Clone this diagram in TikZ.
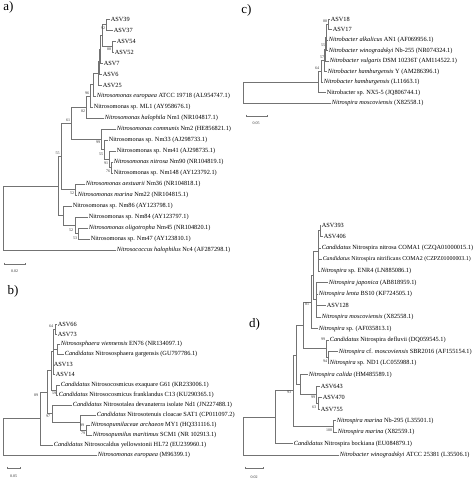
\documentclass[tikz,border=0pt]{standalone}
\usepackage{fontspec}
\setmainfont{Liberation Serif}
\usetikzlibrary{positioning}

\tikzset{
  branch/.style={draw=black!55, line width=0.55pt},
  leaf/.style={anchor=west, inner sep=0.8pt, outer sep=0pt, font=\fontsize{6.3}{7}\selectfont},
  boot/.style={inner sep=0pt, font=\fontsize{4}{4.5}\selectfont, text=black!80},
  panel/.style={inner sep=0pt, font=\fontsize{13}{14}\selectfont},
}

\begin{document}
\begin{tikzpicture}[x=1pt, y=-1pt]
    \useasboundingbox (0,0) rectangle (474,479);

    % a) AOB tree
    \node[panel] (pa) at (8.5,7) {a)};
    \foreach \nm/\yy/\xx/\txt in {a1/19/110/{ASV39}, a2/30/113/{ASV37}, a3/41/116/{ASV54}, a4/52/114/{ASV52},
        a5/63/103/{ASV7}, a6/74/102/{ASV6}, a7/85/102/{ASV25},
        a8/96/96/{\textit{Nitrosomonas europaea} ATCC 19718 (AL954747.1)},
        a9/107/93/{Nitrosomonas sp. ML1 (AY958676.1)},
        a10/118/104/{\textit{Nitrosomonas halophila} Nm1 (NR104817.1)},
        a11/129/116/{\textit{Nitrosomonas communis} Nm2 (HE856821.1)},
        a12/140/108/{Nitrosomonas sp. Nm33 (AJ298733.1)},
        a13/151/116/{Nitrosomonas sp. Nm41 (AJ298735.1)},
        a14/162/113/{\textit{Nitrosomonas nitrosa} Nm90 (NR104819.1)},
        a15/173/113/{Nitrosomonas sp. Nm148 (AY123792.1)},
        a16/184/85/{\textit{Nitrosomonas aestuarii} Nm36 (NR104818.1)},
        a17/195/77/{\textit{Nitrosomonas marina} Nm22 (NR104815.1)},
        a18/206/72/{Nitrosomonas sp. Nm86 (AY123798.1)},
        a19/217/88/{Nitrosomonas sp. Nm84 (AY123797.1)},
        a20/228/88/{\textit{Nitrosomonas oligotropha} Nm45 (NR104820.1)},
        a21/239/90/{Nitrosomonas sp. Nm47 (AY123810.1)},
        a22/250/116/{\textit{Nitrosococcus halophilus} Nc4 (AF287298.1)}} {
        \node[leaf] (\nm) at (\xx,\yy) {\txt};
    }
    \foreach \nm/\xx/\yy in {an1/106/24.5, an2/112/46.5, an3/102/35.5, an4/100/49.25, an5/99/61.6,
        an6/98/73.3, an7/93/84.7, an8/90/95.8, an9/86/106.9, an10/111/167.5, an11/109/159.3,
        an12/104/149.6, an13/101/139.3, an14/71/123.1, an15/75/189.5, an16/61/156.3,
        an17/78/233.5, an18/75/225.25, an19/63/215.6, an20/58/186, ar/3/218} {
        \coordinate (\nm) at (\xx,\yy);
    }
    \foreach \p/\c in {an1/a1, an1/a2, an2/a3, an2/a4, an3/an1, an3/an2, an4/an3, an4/a5,
        an5/an4, an5/a6, an6/an5, an6/a7, an7/an6, an7/a8, an8/an7, an8/a9, an9/an8, an9/a10,
        an10/a14, an10/a15, an11/a13, an11/an10, an12/a12, an12/an11, an13/a11, an13/an12,
        an14/an9, an14/an13, an15/a16, an15/a17, an16/an14, an16/an15, an17/a20, an17/a21,
        an18/a19, an18/an17, an19/a18, an19/an18, an20/an16, an20/an19, ar/an20, ar/a22} {
        \draw[branch] (\p) |- (\c);
    }
    \foreach \xx/\yy/\v [count=\k] in {103/28/92, 109/49/88, 87/93/96, 83/111/82, 98/142/99,
        101/154/55, 106/163/91, 108/171/76, 68/120/61, 72/193/52, 57.5/153/55, 71/230/52, 75/238/53} {
        \node[boot] (abs\k) at (\xx,\yy) {\v};
    }
    \draw[branch] (4,262.5) -- (4,264) -- (25,264) -- (25,262.5);
    \node[boot] (asc) at (14.5,271) {0.02};

    % b) AOA tree
    \node[panel] (pb) at (13,291.5) {b)};
    \foreach \nm/\yy/\xx/\txt in {b1/324/57/{ASV66}, b2/334/57/{ASV73},
        b3/344/60/{\textit{Nitrososphaera viennensis} EN76 (NR134097.1)},
        b4/354/64/{\textit{Candidatus} Nitrososphaera gargensis (GU797786.1)},
        b5/364/53/{ASV13}, b6/374/55/{ASV14},
        b7/385/60/{\textit{Candidatus} Nitrosocosmicus exaquare G61 (KR233006.1)},
        b8/395/58/{\textit{Candidatus} Nitrosocosmicus franklandus C13 (KU290365.1)},
        b9/405/72/{\textit{Candidatus} Nitrosotalea devanaterra isolate Nd1 (JN227488.1)},
        b10/415/96/{\textit{Candidatus} Nitrosotenuis cloacae SAT1 (CP011097.2)},
        b11/425/90/{\textit{Nitrosopumilaceae archaeon} MY1 (HQ331116.1)},
        b12/435/92/{\textit{Nitrosopumilus maritimus} SCM1 (NR 102913.1)},
        b13/445/53/{\textit{Candidatus} Nitrosocaldus yellowstonii HL72 (EU239960.1)},
        b14/455/97/{\textit{Nitrosomonas europaea} (M96399.1)}} {
        \node[leaf] (\nm) at (\xx,\yy) {\txt};
    }
    \foreach \nm/\xx/\yy in {bn1/55/329, bn2/57/349, bn3/53/351.5, bn4/56/390, bn5/51/370.75,
        bn6/86/430, bn7/80/422.5, bn8/52/413.75, bn9/47/392.25, bn10/40/418.6, br/3/436.8} {
        \coordinate (\nm) at (\xx,\yy);
    }
    \foreach \p/\c in {bn1/b1, bn1/b2, bn2/b3, bn2/b4, bn3/bn1, bn3/bn2, bn3/b5, bn3/b6,
        bn4/b7, bn4/b8, bn5/bn3, bn5/bn4, bn6/b11, bn6/b12, bn7/b10, bn7/bn6, bn8/b9, bn8/bn7,
        bn9/bn5, bn9/bn8, bn10/bn9, bn10/b13, br/bn10, br/b14} {
        \draw[branch] (\p) |- (\c);
    }
    \foreach \xx/\yy/\v [count=\k] in {51/326/64, 54/393/59, 48/416/97, 36/395/89, 82/425/99, 83/433/79} {
        \node[boot] (bbs\k) at (\xx,\yy) {\v};
    }
    \draw[branch] (7,466.5) -- (7,468) -- (20,468) -- (20,466.5);
    \node[boot] (bsc) at (13.5,476) {0.05};

    % c) Nitrobacter tree
    \node[panel] (pc) at (246.5,10) {c)};
    \foreach \nm/\yy/\xx/\txt in {c1/19/330/{ASV18}, c2/29.5/332/{ASV17},
        c3/40/328/{\textit{Nitrobacter alkalicus} AN1 (AF069956.1)},
        c4/50.5/328/{\textit{Nitrobacter winogradskyi} Nb-255 (NR074324.1)},
        c5/61/329/{\textit{Nitrobacter vulgaris} DSM 10236T (AM114522.1)},
        c6/71.5/327/{\textit{Nitrobacter hamburgensis} Y (AM286396.1)},
        c7/82/323/{\textit{Nitrobacter hamburgensis} (L11663.1)},
        c8/92.5/326/{Nitrobacter sp. NX5-5 (JQ806744.1)},
        c9/103/331/{\textit{Nitrospira moscoviensis} (X82558.1)}} {
        \node[leaf] (\nm) at (\xx,\yy) {\txt};
    }
    \foreach \nm/\xx/\yy in {cn1/328/24.25, cn2/326/37.4, cn3/325/49.2, cn4/324/60.35,
        cn5/321/71.2, cn6/318/81.8, cr/243/92.4} {
        \coordinate (\nm) at (\xx,\yy);
    }
    \foreach \p/\c in {cn1/c1, cn1/c2, cn2/cn1, cn2/c3, cn2/c4, cn3/cn2, cn3/c5, cn4/cn3, cn4/c6,
        cn5/cn4, cn5/c7, cn6/cn5, cn6/c8, cr/cn6, cr/c9} {
        \draw[branch] (\p) |- (\c);
    }
    \foreach \xx/\yy/\v [count=\k] in {325/21/88, 323/45/55, 322/57/57, 317/68/64} {
        \node[boot] (cbs\k) at (\xx,\yy) {\v};
    }
    \draw[branch] (246,114.5) -- (246,116) -- (267,116) -- (267,114.5);
    \node[boot] (csc) at (256,123) {0.05};

    % d) Nitrospira tree
    \node[panel] (pd) at (254.5,324) {d)};
    \foreach \nm/\yy/\xx/\txt in {d1/225/321/{ASV393}, d2/236.5/323/{ASV406},
        d3/248/321/{\textit{Candidatus} Nitrospira nitrosa COMA1 (CZQA01000015.1)},
        d4/259.5/322/{\fontsize{5.9}{7}\selectfont\textit{Candidatus} Nitrospira nitrificans COMA2 (CZPZ01000003.1)},
        d5/271/320/{\textit{Nitrospira} sp. ENR4 (LN885086.1)},
        d6/282.5/328/{\textit{Nitrospira japonica} (AB818959.1)},
        d7/294/318/{\textit{Nitrospira lenta} BS10 (KF724505.1)},
        d8/305.5/326/{ASV128},
        d9/317/321/{\textit{Nitrospira moscoviensis} (X82558.1)},
        d10/328.5/318/{\textit{Nitrospira} sp. (AF035813.1)},
        d11/340/329/{\textit{Candidatus} Nitrospira defluvii (DQ059545.1)},
        d12/351.5/338/{\textit{Nitrospira} cf. \textit{moscoviensis} SBR2016 (AF155154.1)},
        d13/363/329/{\textit{Nitrospira} sp. ND1 (LC055988.1)},
        d14/374.5/308/{\textit{Nitrospira calida} (HM485589.1)},
        d15/386/320/{ASV643}, d16/397.5/322/{ASV470}, d17/409/320/{ASV755},
        d18/420.5/336/{\textit{Nitrospira marina} Nb-295 (L35501.1)},
        d19/432/337/{\textit{Nitrospira marina} (X82559.1)},
        d20/443.5/293/{\textit{Candidatus} Nitrospira bockiana (EU084879.1)},
        d21/455/339/{\textit{Nitrobacter winogradskyi} ATCC 25381 (L35506.1)}} {
        \node[leaf] (\nm) at (\xx,\yy) {\txt};
    }
    \foreach \nm/\xx/\yy in {dn1/320/230.75, dn2/318/250.9, dn3/316/299.75, dn4/313/275.3,
        dn5/311/301.9, dn6/328/357.25, dn7/326/348.6, dn8/303/325.25, dn9/318/403.25,
        dn10/316/394.6, dn11/300/384.6, dn12/296/354.9, dn13/333/426.25, dn14/293/390.6,
        dn15/275/417, dr/243/436} {
        \coordinate (\nm) at (\xx,\yy);
    }
    \foreach \p/\c in {dn1/d1, dn1/d2, dn2/dn1, dn2/d3, dn2/d4, dn2/d5, dn3/d6, dn3/d7, dn3/d8,
        dn3/d9, dn4/dn2, dn4/dn3, dn5/dn4, dn5/d10, dn6/d12, dn6/d13, dn7/d11, dn7/dn6,
        dn8/dn5, dn8/dn7, dn9/d16, dn9/d17, dn10/d15, dn10/dn9, dn11/d14, dn11/dn10,
        dn12/dn8, dn12/dn11, dn13/d18, dn13/d19, dn14/dn12, dn14/dn13, dn15/dn14, dn15/d20,
        dr/dn15, dr/d21} {
        \draw[branch] (\p) |- (\c);
    }
    \foreach \xx/\yy/\v [count=\k] in {307/304/81, 323/339/99, 325/361/94, 313/397/99,
        314/407/63, 329/430/100, 289/392/93} {
        \node[boot] (dbs\k) at (\xx,\yy) {\v};
    }
    \draw[branch] (245,466.5) -- (245,468) -- (263,468) -- (263,466.5);
    \node[boot] (dsc) at (254,477) {0.02};
\end{tikzpicture}
\end{document}
